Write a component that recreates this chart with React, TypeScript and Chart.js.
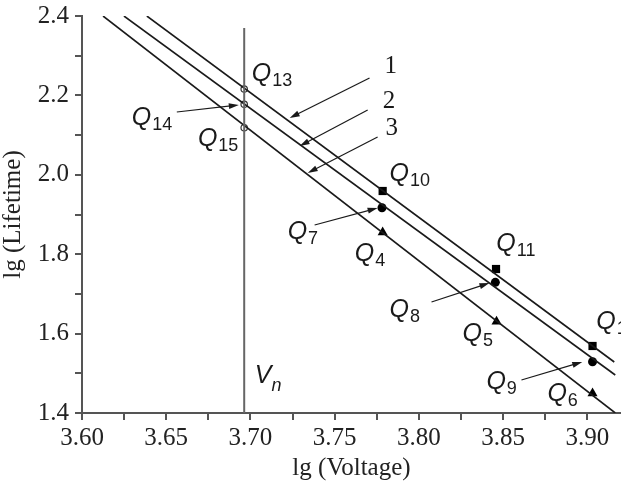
import React, { useEffect, useRef } from 'react';
import { Chart, registerables } from 'chart.js';

Chart.register(...registerables);

// ---- axis ticks ----
const X_TICKS = [3.6, 3.625, 3.65, 3.675, 3.7, 3.725, 3.75, 3.775, 3.8, 3.825, 3.85, 3.875, 3.9];
const X_LABELED = [3.6, 3.65, 3.7, 3.75, 3.8, 3.85, 3.9];
const Y_TICKS = [1.4, 1.5, 1.6, 1.7, 1.8, 1.9, 2.0, 2.1, 2.2, 2.3, 2.4];
const Y_LABELED = [1.4, 1.6, 1.8, 2.0, 2.2, 2.4];

// ---- fitted lines (endpoints) ----
const LINE1_X = [3.6385, 3.916];
const LINE1_Y = [2.4, 1.5285];
const LINE2_X = [3.6249, 3.9166];
const LINE2_Y = [2.4, 1.4957];
const LINE3_X = [3.6125, 3.9166];
const LINE3_Y = [2.4, 1.4];

// ---- Vn vertical line ----
const VN_X = [3.6963, 3.6963];
const VN_Y = [2.37, 1.4];

// ---- measured points ----
const SQUARE_X = [3.7785, 3.8458, 3.9031]; // Q10, Q11, Q12
const SQUARE_Y = [1.9592, 1.7627, 1.5688];
const DOT_X = [3.7781, 3.8454, 3.9031]; // Q7, Q8, Q9
const DOT_Y = [1.9171, 1.7292, 1.5292];
const TRI_X = [3.7785, 3.8461, 3.9031]; // Q4, Q5, Q6
const TRI_Y = [1.8552, 1.6305, 1.4496];
const OPEN_X = [3.6963, 3.6963, 3.6963]; // Q13, Q14, Q15
const OPEN_Y = [2.2161, 2.1776, 2.1186];

// ---- Q labels ----
const Q_SUB = ['13', '14', '15', '10', '7', '4', '11', '8', '5', '12', '9', '6'];
const Q_X = [3.7008, 3.6296, 3.6688, 3.7826, 3.7221, 3.7619, 3.846, 3.7826, 3.8259, 3.9053, 3.8401, 3.8763];
const Q_Y = [2.2363, 2.1254, 2.0725, 1.9844, 1.8383, 1.7829, 1.8081, 1.6418, 1.5814, 1.6116, 1.4604, 1.4302];

// ---- curve number labels ----
const NUM_TEXT = ['1', '2', '3'];
const NUM_X = [3.7796, 3.7785, 3.7802];
const NUM_Y = [2.2564, 2.1683, 2.1003];

// ---- Vn label ----
const VN_LABEL_X = 3.7026;
const VN_LABEL_Y = 1.4756;

// ---- leader arrows: from (x0,y0) to tip (x1,y1) ----
const ARROW_X0 = [3.7707, 3.7696, 3.7755, 3.6563, 3.7381, 3.8075, 3.8609];
const ARROW_Y0 = [2.2438, 2.1632, 2.0952, 2.1582, 1.8736, 1.6796, 1.4831];
const ARROW_X1 = [3.7233, 3.7292, 3.734, 3.6931, 3.7755, 3.8419, 3.897];
const ARROW_Y1 = [2.1431, 2.0725, 2.0045, 2.1758, 1.9164, 1.7275, 1.5285];

const zip = (xs: number[], ys: number[]) => xs.map((x, i) => ({ x, y: ys[i] }));
const near = (list: number[], v: number) => list.some((t) => Math.abs(t - v) < 1e-6);

const INK = '#1a1a1a';
const AXIS = '#555555';
const SERIF = '"Liberation Serif", "Times New Roman", serif';

const annotPlugin = {
  id: 'annot',
  afterDatasetsDraw(chart: any) {
    const { ctx, scales } = chart;
    const sx = scales.x;
    const sy = scales.y;
    ctx.save();
    ctx.strokeStyle = INK;
    ctx.fillStyle = INK;
    ctx.lineWidth = 1.2;
    // arrows
    for (let i = 0; i < ARROW_X0.length; i++) {
      const x0 = sx.getPixelForValue(ARROW_X0[i]);
      const y0 = sy.getPixelForValue(ARROW_Y0[i]);
      const x1 = sx.getPixelForValue(ARROW_X1[i]);
      const y1 = sy.getPixelForValue(ARROW_Y1[i]);
      const a = Math.atan2(y1 - y0, x1 - x0);
      const L = 10;
      const W = 3;
      ctx.beginPath();
      ctx.moveTo(x0, y0);
      ctx.lineTo(x1 - Math.cos(a) * L * 0.6, y1 - Math.sin(a) * L * 0.6);
      ctx.stroke();
      ctx.beginPath();
      ctx.moveTo(x1, y1);
      ctx.lineTo(x1 - Math.cos(a) * L - Math.sin(a) * W, y1 - Math.sin(a) * L + Math.cos(a) * W);
      ctx.lineTo(x1 - Math.cos(a) * L + Math.sin(a) * W, y1 - Math.sin(a) * L - Math.cos(a) * W);
      ctx.closePath();
      ctx.fill();
    }
    // Q labels
    ctx.textBaseline = 'alphabetic';
    ctx.textAlign = 'left';
    for (let i = 0; i < Q_SUB.length; i++) {
      const px = sx.getPixelForValue(Q_X[i]);
      const py = sy.getPixelForValue(Q_Y[i]);
      ctx.font = 'italic 25px "Liberation Sans", Arial, sans-serif';
      ctx.fillText('Q', px, py);
      const w = ctx.measureText('Q').width;
      ctx.font = '18px "Liberation Sans", Arial, sans-serif';
      ctx.fillText(Q_SUB[i], px + w + 1, py + 5);
    }
    // Vn
    {
      const px = sx.getPixelForValue(VN_LABEL_X);
      const py = sy.getPixelForValue(VN_LABEL_Y);
      ctx.font = 'italic 25px "Liberation Sans", Arial, sans-serif';
      ctx.fillText('V', px, py);
      const w = ctx.measureText('V').width;
      ctx.font = 'italic 18px "Liberation Sans", Arial, sans-serif';
      ctx.fillText('n', px + w, py + 8);
    }
    // curve numbers
    ctx.font = '25px ' + SERIF;
    for (let i = 0; i < NUM_TEXT.length; i++) {
      ctx.fillText(NUM_TEXT[i], sx.getPixelForValue(NUM_X[i]), sy.getPixelForValue(NUM_Y[i]));
    }
    ctx.restore();
  },
};

const zeroPad = (s: any) => {
  s.paddingTop = 0;
  s.paddingBottom = 0;
  s.paddingLeft = 0;
  s.paddingRight = 0;
};

export default function App() {
  const ref = useRef<HTMLCanvasElement | null>(null);
  useEffect(() => {
    document.body.style.margin = '0';
    const canvas = ref.current!;
    const lineDs = (xs: number[], ys: number[], color: string, width: number) => ({
      data: zip(xs, ys),
      showLine: true,
      borderColor: color,
      borderWidth: width,
      pointRadius: 0,
      fill: false,
    });
    const chart = new Chart(canvas, {
      type: 'scatter',
      data: {
        datasets: [
          lineDs(VN_X, VN_Y, '#666666', 2),
          lineDs(LINE1_X, LINE1_Y, INK, 1.6),
          lineDs(LINE2_X, LINE2_Y, INK, 1.6),
          lineDs(LINE3_X, LINE3_Y, INK, 1.6),
          {
            data: zip(SQUARE_X, SQUARE_Y),
            pointStyle: 'rect',
            pointRadius: 5.8,
            backgroundColor: '#000',
            borderColor: '#000',
            borderWidth: 0,
          },
          {
            data: zip(DOT_X, DOT_Y),
            pointStyle: 'circle',
            pointRadius: 4.5,
            backgroundColor: '#000',
            borderColor: '#000',
            borderWidth: 0,
          },
          {
            data: zip(TRI_X, TRI_Y),
            pointStyle: 'triangle',
            pointRadius: 5.8,
            backgroundColor: '#000',
            borderColor: '#000',
            borderWidth: 0,
          },
          {
            data: zip(OPEN_X, OPEN_Y),
            pointStyle: 'circle',
            pointRadius: 3.2,
            backgroundColor: '#fff',
            borderColor: '#333',
            borderWidth: 1.2,
          },
        ],
      },
      options: {
        responsive: false,
        animation: false,
        devicePixelRatio: 1,
        layout: { autoPadding: false, padding: { top: 16, right: 0, left: 0, bottom: 0 } },
        plugins: { legend: { display: false }, tooltip: { enabled: false } },
        scales: {
          x: {
            type: 'linear',
            min: 3.6,
            max: 3.92,
            afterBuildTicks: (s: any) => {
              s.ticks = X_TICKS.map((v) => ({ value: v }));
            },
            afterFit: (s: any) => {
              s.height = 79;
              zeroPad(s);
            },
            ticks: {
              autoSkip: false,
              maxRotation: 0,
              padding: 3,
              color: '#222',
              font: { family: SERIF, size: 25 },
              callback: (v: any) => (near(X_LABELED, Number(v)) ? Number(v).toFixed(2) : ''),
            },
            grid: { drawOnChartArea: false, drawTicks: true, tickLength: 7, color: AXIS, lineWidth: 2 },
            border: { display: true, color: AXIS, width: 2 },
            title: {
              display: true,
              text: 'lg (Voltage)',
              color: '#222',
              font: { family: SERIF, size: 25, lineHeight: 1.2 },
              padding: { top: 0, bottom: 9 },
            },
          },
          y: {
            type: 'linear',
            min: 1.4,
            max: 2.4,
            afterBuildTicks: (s: any) => {
              s.ticks = Y_TICKS.map((v) => ({ value: v }));
            },
            afterFit: (s: any) => {
              s.width = 82;
              zeroPad(s);
            },
            ticks: {
              autoSkip: false,
              padding: 6,
              color: '#222',
              font: { family: SERIF, size: 25 },
              callback: (v: any) => (near(Y_LABELED, Number(v)) ? Number(v).toFixed(1) : ''),
            },
            grid: { drawOnChartArea: false, drawTicks: true, tickLength: 7, color: AXIS, lineWidth: 2 },
            border: { display: true, color: AXIS, width: 2 },
            title: {
              display: true,
              text: 'lg (Lifetime)',
              color: '#222',
              font: { family: SERIF, size: 25, lineHeight: 1.0 },
              padding: { top: 1, bottom: 0 },
            },
          },
        },
      },
      plugins: [annotPlugin],
    } as any);
    return () => chart.destroy();
  }, []);
  return (
    <div style={{ position: 'absolute', left: 0, top: 0, width: 621, height: 492, background: '#fff' }}>
      <canvas ref={ref} width={621} height={492} style={{ width: 621, height: 492 }} />
    </div>
  );
}
